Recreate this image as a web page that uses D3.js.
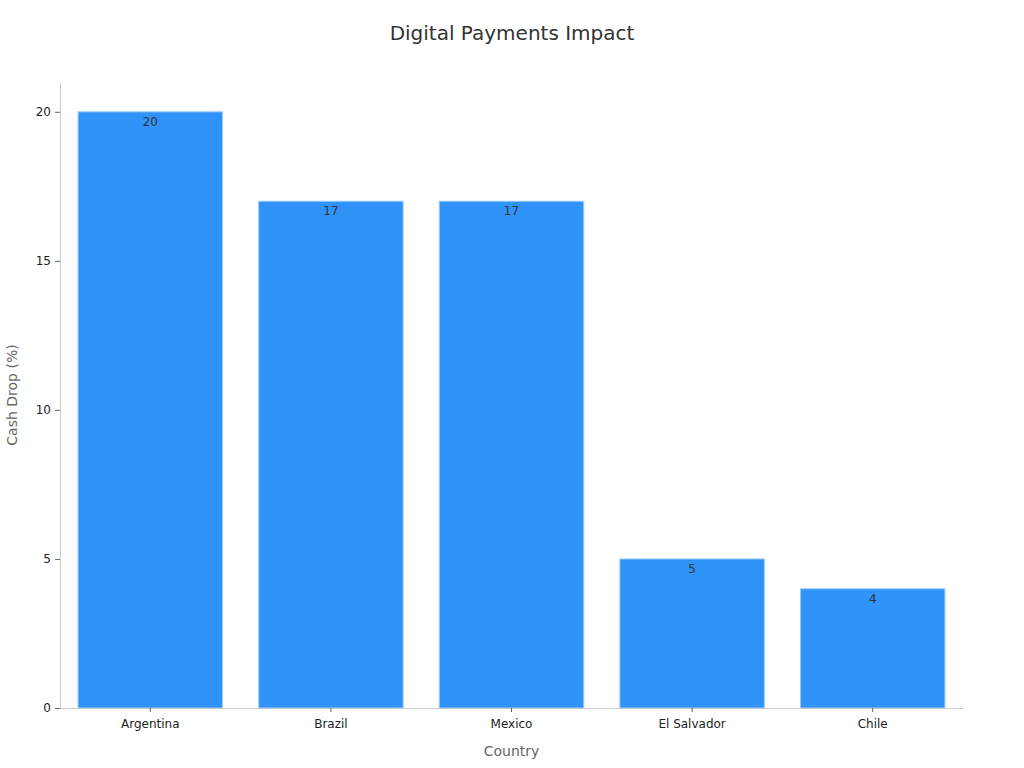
<!DOCTYPE html>
<html>
<head>
<meta charset="utf-8">
<script src="https://cdn.jsdelivr.net/npm/d3@7"></script>
<style>
  body { margin: 0; background: #ffffff; }
  svg { font-family: "DejaVu Sans", sans-serif; }
</style>
</head>
<body>
<div id="chart"></div>
<script>
var countries = ["Argentina", "Brazil", "Mexico", "El Salvador", "Chile"];
var cashDrop = [20, 17, 17, 5, 4];
var yTicks = [0, 5, 10, 15, 20];

var w = 1024, h = 768;
var plotLeft = 60, plotRight = 963, plotTop = 82, plotBottom = 708;

var svg = d3.select("#chart").append("svg").attr("width", w).attr("height", h);

var x = d3.scaleBand().domain(countries).range([plotLeft, plotRight]).paddingInner(0.2).paddingOuter(0.1);
var y = d3.scaleLinear().domain([0, 21]).range([plotBottom, plotTop]);

svg.append("text").attr("x", w / 2).attr("y", 40).attr("text-anchor", "middle")
    .attr("font-size", "20").attr("fill", "#333").text("Digital Payments Impact");

// bars
svg.selectAll("rect.bar").data(cashDrop).enter().append("rect").attr("class", "bar")
    .attr("x", function (d, i) { return x(countries[i]); })
    .attr("y", function (d) { return y(d); })
    .attr("width", x.bandwidth())
    .attr("height", function (d) { return y(0) - y(d); })
    .attr("fill", "#2f93f9")
    .attr("stroke", "#9ccafc")
    .attr("stroke-width", 1);

svg.selectAll("text.val").data(cashDrop).enter().append("text").attr("class", "val")
    .attr("x", function (d, i) { return x(countries[i]) + x.bandwidth() / 2; })
    .attr("y", function (d) { return y(d) + 14; })
    .attr("text-anchor", "middle").attr("font-size", "12").attr("fill", "#333")
    .text(function (d) { return d; });

// axes
var yAxis = svg.append("g").attr("transform", "translate(" + plotLeft + ",0)")
    .call(d3.axisLeft(y).tickValues(yTicks).tickSize(5).tickSizeOuter(0).tickPadding(4));
yAxis.select(".domain").attr("stroke", "#ccc");
yAxis.selectAll(".tick line").attr("stroke", "#666");
yAxis.selectAll(".tick text").attr("font-size", "12").attr("fill", "#222").attr("font-family", "DejaVu Sans");

var xAxis = svg.append("g").attr("transform", "translate(0," + plotBottom + ")")
    .call(d3.axisBottom(x).tickSize(4).tickSizeOuter(0).tickPadding(7));
xAxis.select(".domain").attr("stroke", "#ccc");
xAxis.selectAll(".tick line").attr("stroke", "#666");
xAxis.selectAll(".tick text").attr("font-size", "12").attr("fill", "#222").attr("font-family", "DejaVu Sans");

svg.append("text").attr("x", (plotLeft + plotRight) / 2).attr("y", 756).attr("text-anchor", "middle")
    .attr("font-size", "14").attr("fill", "#666").text("Country");
svg.append("text").attr("transform", "translate(17," + ((plotTop + plotBottom) / 2) + ") rotate(-90)")
    .attr("text-anchor", "middle").attr("font-size", "14").attr("fill", "#666").text("Cash Drop (%)");
</script>
</body>
</html>
